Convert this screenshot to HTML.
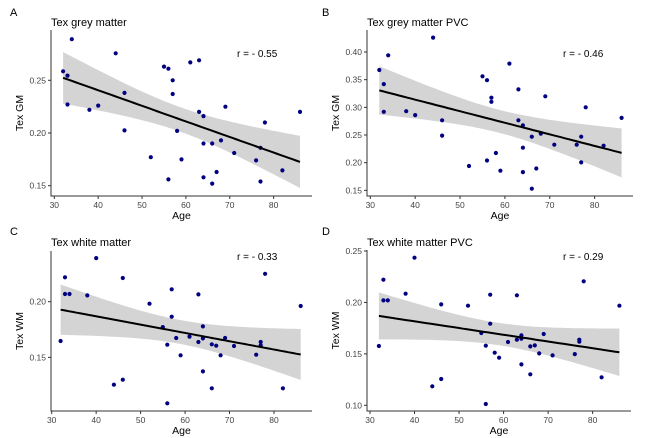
<!DOCTYPE html>
<html><head><meta charset="utf-8">
<style>
html,body{margin:0;padding:0;background:#fff;}
svg{display:block;font-family:"Liberation Sans",Arial,sans-serif;}
</style></head>
<body>
<svg id="chart" width="660" height="438" viewBox="0 0 660 438"></svg>
<script>
const ages = [32,33,33,34,38,40,44,46,46,52,55,56,56,57,57,58,59,61,63,63,64,64,64,66,66,67,68,69,71,76,77,77,78,82,86];
const greyMatter = [0.2585,0.2545,0.227,0.289,0.222,0.226,0.2756,0.238,0.2025,0.177,0.263,0.261,0.156,0.25,0.237,0.202,0.175,0.267,0.269,0.22,0.216,0.19,0.158,0.19,0.152,0.163,0.193,0.225,0.181,0.174,0.154,0.186,0.21,0.1645,0.22];
const greyMatterPVC = [0.3675,0.342,0.292,0.394,0.293,0.286,0.426,0.2765,0.249,0.194,0.356,0.349,0.204,0.3175,0.31,0.2175,0.1855,0.379,0.3325,0.2765,0.2675,0.227,0.183,0.247,0.153,0.1895,0.2525,0.32,0.2325,0.2325,0.247,0.2005,0.3,0.2307,0.281];
const whiteMatter = [0.1647,0.2219,0.2069,0.2069,0.2057,0.2392,0.1254,0.2213,0.1299,0.1982,0.1772,0.1614,0.1087,0.2111,0.1865,0.1674,0.1518,0.1686,0.2066,0.1638,0.1778,0.167,0.1374,0.1617,0.1222,0.1605,0.1518,0.1674,0.1602,0.1524,0.1638,0.1608,0.2251,0.1222,0.1961];
const whiteMatterPVC = [0.1576,0.2221,0.202,0.202,0.2085,0.2435,0.1185,0.1981,0.1256,0.1968,0.1703,0.1579,0.1013,0.2075,0.1793,0.1511,0.1463,0.1615,0.2069,0.1638,0.168,0.1648,0.1398,0.1573,0.1301,0.1582,0.1505,0.1693,0.1485,0.1498,0.1638,0.1618,0.2205,0.1272,0.1968];
const xTicks = [30,40,50,60,70,80];
const yTicksA = [0.15,0.20,0.25];
const yTicksB = [0.15,0.20,0.25,0.30,0.35,0.40];
const yTicksC = [0.15,0.20];
const yTicksD = [0.10,0.15,0.20,0.25];
const rLabels = ["r = - 0.55","r = - 0.46","r = - 0.33","r = - 0.29"];
const titles = ["Tex grey matter","Tex grey matter PVC","Tex white matter","Tex white matter PVC"];
const yTitles = ["Tex GM","Tex GM","Tex WM","Tex WM"];
const letters = ["A","B","C","D"];

const NS="http://www.w3.org/2000/svg";
const svg=document.getElementById('chart');
function mk(tag,attrs,parent){const e=document.createElementNS(NS,tag);for(const k in attrs)e.setAttribute(k,attrs[k]);(parent||svg).appendChild(e);return e;}

const panels=[
 {vals:greyMatter,yt:yTicksA,axX:51,axY:196,top:30,right:312,x30:54.3,xs:4.387,yRef:0.20,yRefPx:133,ys:1054,dec:2,letterX:10,letterY:16,titleY:26,rX:237,rY:57,yTitleX:23,ageY:219},
 {vals:greyMatterPVC,yt:yTicksB,axX:367,axY:196,top:30,right:633,x30:370.3,xs:4.487,yRef:0.40,yRefPx:52,ys:553.4,dec:2,letterX:322,letterY:16,titleY:26,rX:563,rY:57,yTitleX:339,ageY:219},
 {vals:whiteMatter,yt:yTicksC,axX:51,axY:411,top:251,right:312,x30:51.7,xs:4.446,yRef:0.20,yRefPx:301.7,ys:1113,dec:2,letterX:10,letterY:235,titleY:246,rX:237,rY:260,yTitleX:23,ageY:434},
 {vals:whiteMatterPVC,yt:yTicksD,axX:367,axY:411,top:250,right:631,x30:370,xs:4.453,yRef:0.10,yRefPx:405.3,ys:1028.7,dec:2,letterX:322,letterY:235,titleY:246,rX:563,rY:260,yTitleX:339,ageY:434}
];

panels.forEach((p,i)=>{
  const g=mk('g',{});
  
  
  const X=a=>p.x30+(a-30)*p.xs;
  const Y=v=>p.yRefPx-(v-p.yRef)*p.ys;
  const ys=p.vals;
  const n=ages.length;
  const mx=ages.reduce((s,a)=>s+a,0)/n, my=ys.reduce((s,a)=>s+a,0)/n;
  let sxx=0,sxy=0;for(let k=0;k<n;k++){sxx+=(ages[k]-mx)**2;sxy+=(ages[k]-mx)*(ys[k]-my);}
  const b=sxy/sxx, a0=my-b*mx;
  let sse=0;for(let k=0;k<n;k++){sse+=(ys[k]-a0-b*ages[k])**2;}
  const s=Math.sqrt(sse/(n-2)), t=2.035;
  const amin=Math.min(...ages), amax=Math.max(...ages);
  const up=[],lo=[],ln=[];
  for(let j=0;j<=60;j++){const a=amin+(amax-amin)*j/60;const f=a0+b*a;const h=t*s*Math.sqrt(1/n+(a-mx)**2/sxx);
    up.push(X(a).toFixed(1)+','+Y(f+h).toFixed(1));lo.unshift(X(a).toFixed(1)+','+Y(f-h).toFixed(1));ln.push(X(a).toFixed(1)+','+Y(f).toFixed(1));}
  const band=mk('polygon',{points:up.concat(lo).join(' '),fill:'#d4d4d4'},g);
  
  
  ys.forEach((v,k)=>{const c=mk('circle',{cx:X(ages[k]).toFixed(1),cy:Y(v).toFixed(1),r:2.1,fill:'#000080'},g);
    
    });
  const line=mk('polyline',{points:ln.join(' '),fill:'none',stroke:'#000',"stroke-width":2},g);
  
  
  // axes
  const ax=mk('path',{d:`M${p.axX},${p.top}V${p.axY}H${p.right}`,fill:'none',stroke:'#333',"stroke-width":1},g);
  
  
  xTicks.forEach(v=>{const x=X(v);mk('line',{x1:x,x2:x,y1:p.axY,y2:p.axY+3,stroke:'#333'},g);
    const tx=mk('text',{x:x,y:p.axY+12,"text-anchor":"middle","font-size":"8.5",fill:'#444'},g);tx.textContent=v;
    
    });
  p.yt.forEach(v=>{const y=Y(v);mk('line',{x1:p.axX-3,x2:p.axX,y1:y,y2:y,stroke:'#333'},g);
    const tx=mk('text',{x:p.axX-5,y:y+3,"text-anchor":"end","font-size":"8.5",fill:'#444'},g);tx.textContent=v.toFixed(p.dec);
    
    });
  const L=mk('text',{x:p.letterX,y:p.letterY,"font-size":"11",fill:'#000'},g);L.textContent=letters[i];
  
  
  const T=mk('text',{x:p.axX,y:p.titleY,"font-size":"11",fill:'#000'},g);T.textContent=titles[i];
  
  
  const R=mk('text',{x:p.rX,y:p.rY,"font-size":"10",fill:'#000'},g);R.textContent=rLabels[i];
  
  
  const A=mk('text',{x:(p.axX+p.right)/2,y:p.ageY,"text-anchor":"middle","font-size":"10.5",fill:'#000'},g);A.textContent='Age';
  
  
  const cy=(p.top+p.axY)/2;
  const YT=mk('text',{x:p.yTitleX,y:cy,"text-anchor":"middle","font-size":"10.5",fill:'#000',transform:`rotate(-90 ${p.yTitleX} ${cy})`},g);YT.textContent=yTitles[i];
  
  
});
</script>
</body></html>
